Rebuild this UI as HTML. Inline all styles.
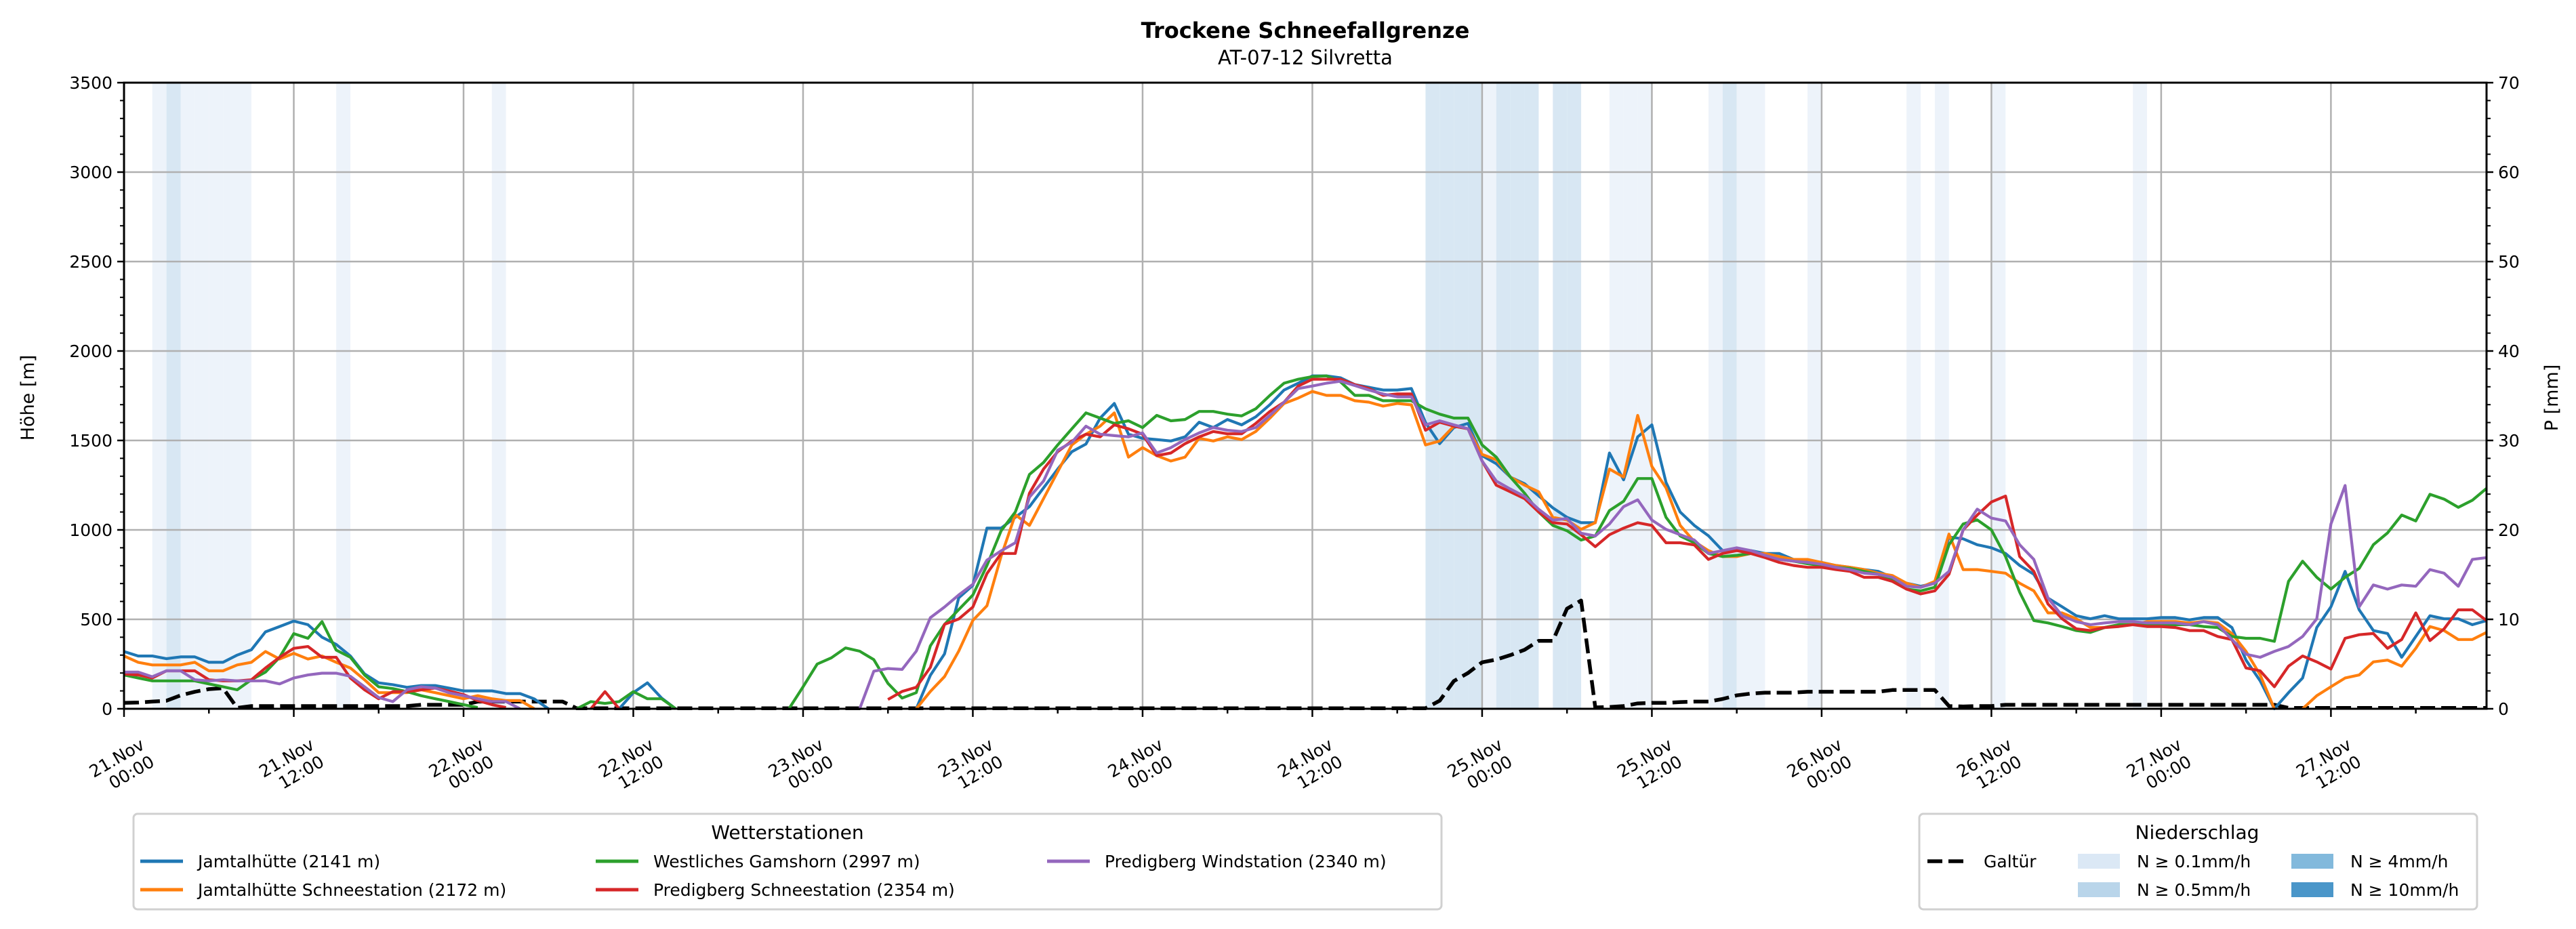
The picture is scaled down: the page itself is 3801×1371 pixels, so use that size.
<!DOCTYPE html>
<html><head><meta charset="utf-8">
<style>
html,body{margin:0;padding:0;background:#fff;}
svg{display:block;font-family:"DejaVu Sans","Liberation Sans",sans-serif;}
</style></head>
<body>
<svg id="chart" width="3801" height="1371" viewBox="0 0 3801 1371" xmlns="http://www.w3.org/2000/svg">
<rect width="3801" height="1371" fill="#fff"/>
<text x="1926" y="56" text-anchor="middle" font-size="32" font-weight="bold">Trockene Schneefallgrenze</text>
<text x="1926" y="95" text-anchor="middle" font-size="29">AT-07-12 Silvretta</text>
<g id="bands"></g>
<g id="grid"></g>
<g id="series"></g>
<g id="axes"></g>
<text transform="translate(50,587) rotate(-90)" text-anchor="middle" font-size="27">Höhe [m]</text>
<text transform="translate(3774,587) rotate(-90)" text-anchor="middle" font-size="27">P [mm]</text>
<g id="legend1"></g>
<g id="legend2"></g>
</svg>
<script>
const hours=[];for(let i=0;i<=167;i++)hours.push(i);
const jamtal=[320,295,295,280,290,290,260,260,300,330,430,460,490,470,400,360,295,195,145,135,120,130,130,115,100,100,100,85,85,55,0,null,null,null,null,0,90,145,60,0,null,null,null,null,null,null,null,null,null,null,null,null,null,null,null,null,
0,187,307,620,690,1010,1010,1070,1130,1235,1340,1437,1480,1625,1707,1535,1512,1505,1497,1520,1602,1572,1617,1587,1632,1700,1782,1820,1861,1861,1850,1812,1797,1782,1782,1790,1600,1482,1572,1595,1415,1370,1295,1258,1190,1123,1070,1040,1040,1430,1280,1520,1587,1265,1100,1025,
967,884,884,884,868,868,835,825,818,801,791,778,768,735,702,685,702,960,950,917,900,868,801,752,619,570,520,503,520,503,503,503,510,510,497,510,510,454,272,156,0,90,172,454,570,768,553,437,421,288,404,520,503,503,470,493];
const jamtalSchnee=[295,260,245,245,245,260,212,212,245,260,320,278,310,278,295,260,228,162,90,90,90,106,90,73,56,73,56,46,46,0,null,null,null,null,null,null,null,null,null,null,null,null,null,null,null,null,null,null,null,null,null,null,null,null,null,null,
0,97,180,322,494,576,853,1085,1025,1175,1325,1475,1535,1580,1654,1407,1460,1415,1385,1407,1512,1497,1520,1505,1550,1625,1707,1737,1774,1752,1752,1722,1714,1692,1707,1699,1475,1497,1580,1565,1422,1392,1295,1250,1213,1070,1055,1003,1040,1340,1295,1640,1355,1235,1025,935,
884,851,851,868,868,851,835,835,818,801,791,778,758,745,702,679,712,977,778,778,768,758,702,659,536,536,503,454,454,470,470,487,487,487,480,487,480,421,321,189,0,null,0,73,123,172,189,262,272,238,338,460,437,387,387,427];
const gamshorn=[189,172,156,156,156,156,139,123,106,162,205,288,420,394,487,328,288,189,123,113,96,73,56,40,23,7,null,null,null,null,null,null,0,40,30,40,96,56,56,0,null,null,null,null,null,null,null,0,123,250,285,340,322,275,142,60,
90,352,472,554,636,801,995,1100,1310,1377,1475,1565,1654,1625,1595,1610,1572,1640,1610,1617,1662,1662,1647,1637,1677,1752,1820,1842,1857,1861,1827,1752,1752,1722,1722,1722,1677,1647,1625,1625,1475,1407,1295,1205,1100,1025,995,943,966,1108,1160,1287,1287,1070,966,928,
868,851,858,868,851,835,825,811,801,791,785,768,752,725,669,659,679,917,1033,1056,1000,851,652,493,480,460,437,427,454,470,470,470,470,470,470,460,454,404,394,394,377,712,825,735,669,735,785,917,983,1083,1050,1199,1172,1126,1166,1232];
const predigSchnee=[195,189,172,212,212,212,162,156,156,162,228,288,338,348,288,288,172,106,56,96,96,106,116,99,79,46,23,7,null,null,null,null,null,0,96,0,null,null,null,null,null,null,null,null,null,null,null,null,null,null,null,null,null,null,52,97,
120,232,472,502,569,756,868,868,1205,1340,1437,1497,1535,1520,1587,1565,1535,1415,1430,1482,1520,1550,1537,1537,1595,1662,1714,1804,1842,1842,1842,1812,1790,1752,1760,1760,1557,1602,1580,1565,1385,1250,1213,1175,1100,1040,1033,973,906,973,1010,1040,1025,928,928,916,
835,868,884,868,845,818,801,791,791,778,768,735,735,712,669,642,659,752,1000,1083,1156,1189,851,768,586,503,447,437,454,460,470,460,460,454,437,437,404,387,228,212,123,238,295,262,222,394,414,421,338,387,536,381,447,553,553,493];
const predigWind=[205,205,179,212,212,162,156,162,156,156,156,139,172,189,199,199,182,123,63,40,106,123,116,89,73,56,40,40,0,null,null,null,null,null,null,null,null,null,null,null,null,null,null,null,null,null,null,null,null,null,null,null,0,210,225,220,
322,509,569,636,696,831,883,928,1183,1273,1445,1490,1580,1535,1527,1520,1542,1430,1460,1505,1542,1572,1557,1550,1572,1640,1714,1790,1804,1820,1831,1807,1782,1760,1744,1744,1587,1610,1587,1565,1385,1273,1228,1187,1115,1055,1063,981,966,1033,1130,1168,1055,1003,973,943,
868,884,900,884,858,835,825,818,808,791,778,758,752,735,685,679,702,768,1000,1116,1066,1050,917,835,619,520,487,470,480,487,487,480,480,480,470,487,470,387,305,288,321,348,404,503,1033,1248,570,692,669,692,685,778,758,685,835,845];
const galtur=[0.66,0.7,0.8,0.9,1.5,1.9,2.2,2.3,0.1,0.3,0.3,0.3,0.3,0.3,0.3,0.3,0.3,0.3,0.3,0.3,0.3,0.45,0.45,0.45,0.45,0.8,0.8,0.8,0.8,0.8,0.8,0.8,
0.05,0.05,0.05,0.05,0.05,0.05,0.05,0.05,0.05,0.05,0.05,0.05,0.05,0.05,0.05,0.05,0.05,0.05,0.05,0.05,0.05,0.05,0.05,0.05,0.05,0.05,0.05,0.05,0.05,0.05,0.05,0.05,0.05,0.05,0.05,0.05,0.05,0.05,0.05,0.05,0.05,0.05,0.05,0.05,0.05,0.05,0.05,0.05,0.05,0.05,0.05,0.05,0.05,0.05,0.05,0.05,0.05,0.05,0.05,0.05,0.05,
0.9,3.1,4.0,5.2,5.5,6.0,6.6,7.6,7.6,11.2,12.1,0.15,0.2,0.3,0.6,0.66,0.66,0.75,0.8,
0.8,1.1,1.5,1.7,1.8,1.8,1.8,1.9,1.9,1.9,1.9,1.9,1.9,2.1,2.1,2.1,2.1,
0.3,0.26,0.3,0.3,
0.45,0.45,0.45,0.45,0.45,0.45,0.45,0.45,0.45,0.45,0.45,0.45,0.45,0.45,0.45,0.45,0.45,0.45,0.45,0.45,
0.1,0.1,0.1,0.1,0.1,0.1,0.1,0.1,0.1,0.1,0.1,0.1,0.1,0.1,0.1];
const precipHours=[2,3,4,5,6,7,8,15,26,92,93,94,95,96,97,98,99,101,102,105,106,107,112,113,114,115,119,126,128,132,142];
const precipLevel=[1,2,1,1,1,1,1,1,1,2,2,2,2,1,2,2,2,2,2,1,1,1,1,2,1,1,1,1,1,1,1];
const yTicks=[0,500,1000,1500,2000,2500,3000,3500];
const y2Ticks=[0,10,20,30,40,50,60,70];
const xTickHours=[0,12,24,36,48,60,72,84,96,108,120,132,144,156];
const xTickDays=["21.Nov","21.Nov","22.Nov","22.Nov","23.Nov","23.Nov","24.Nov","24.Nov","25.Nov","25.Nov","26.Nov","26.Nov","27.Nov","27.Nov"];
const xTickTimes=["00:00","12:00","00:00","12:00","00:00","12:00","00:00","12:00","00:00","12:00","00:00","12:00","00:00","12:00"];

const L=183,R=3669,T=122,B=1046,HMAX=167,YMAX=3500,PMAX=70;
const X=h=>L+(R-L)*h/HMAX;
const Y=v=>B-(B-T)*v/YMAX;
const Y2=v=>B-(B-T)*v/PMAX;
const NS='http://www.w3.org/2000/svg';
function mk(tag,attrs,parent){const e=document.createElementNS(NS,tag);for(const k in attrs)e.setAttribute(k,attrs[k]);parent.appendChild(e);return e;}

const bandsG=document.getElementById('bands');
const bandColors=['#ffffff','#edf3fa','#d8e7f3','#9cc6e2','#5a9fcf'];
precipHours.forEach((h,i)=>{
  const r=mk('rect',{x:X(h),y:T,width:X(h+1)-X(h),height:B-T,fill:bandColors[precipLevel[i]]},bandsG);
  
  
});

const gridG=document.getElementById('grid');
yTicks.forEach(v=>{if(v>0&&v<YMAX){const l=mk('line',{x1:L,x2:R,y1:Y(v),y2:Y(v),stroke:'#b0b0b0','stroke-width':2.5},gridG);}});
xTickHours.forEach(h=>{if(h>0){const l=mk('line',{x1:X(h),x2:X(h),y1:T,y2:B,stroke:'#b0b0b0','stroke-width':2.5},gridG);}});

const seriesG=document.getElementById('series');
function drawLine(arr,color,name,scale,extra){
  let d='',pen=false;
  arr.forEach((v,i)=>{if(v===null||v===undefined){pen=false;return;}d+=(pen?'L':'M')+X(hours[i]).toFixed(1)+','+scale(v).toFixed(1);pen=true;});
  const p=mk('path',Object.assign({d:d,fill:'none',stroke:color,'stroke-width':4.2,'stroke-linejoin':'round'},extra||{}),seriesG);
  
  
}
drawLine(galtur,'#000','galtur-precip-line',Y2,{'stroke-width':5.5,'stroke-dasharray':'22,9'});
drawLine(jamtal,'#1f77b4','jamtalhuette-line',Y);
drawLine(jamtalSchnee,'#ff7f0e','jamtalhuette-schneestation-line',Y);
drawLine(gamshorn,'#2ca02c','westliches-gamshorn-line',Y);
drawLine(predigSchnee,'#d62728','predigberg-schneestation-line',Y);
drawLine(predigWind,'#9467bd','predigberg-windstation-line',Y);

const axG=document.getElementById('axes');
const frame=mk('rect',{x:L,y:T,width:R-L,height:B-T,fill:'none',stroke:'#000','stroke-width':3},axG);


for(let v=0;v<=YMAX;v+=100){
  const major=v%500===0;const len=major?10:6;
  mk('line',{x1:L-len,x2:L,y1:Y(v),y2:Y(v),stroke:'#000','stroke-width':major?2.5:2},axG);
  mk('line',{x1:R,x2:R+len,y1:Y(v),y2:Y(v),stroke:'#000','stroke-width':major?2.5:2},axG);
}
yTicks.forEach(v=>{const t=mk('text',{x:L-17,y:Y(v)+9,'text-anchor':'end','font-size':25},axG);t.textContent=v;});
y2Ticks.forEach(v=>{const t=mk('text',{x:R+17,y:Y2(v)+9,'text-anchor':'start','font-size':25},axG);t.textContent=v;});
for(let h=0;h<=HMAX;h+=6){const major=h%12===0;mk('line',{x1:X(h),x2:X(h),y1:B,y2:B+(major?12:7),stroke:'#000','stroke-width':2.5},axG);}
xTickHours.forEach((h,i)=>{
  const g=mk('g',{transform:'translate('+(X(h)+32)+','+(B+58)+') rotate(-30)'},axG);
  
  
  const t1=mk('text',{x:0,y:0,'text-anchor':'end','font-size':25},g);t1.textContent=xTickDays[i];
  const t2=mk('text',{x:0,y:29,'text-anchor':'end','font-size':25},g);t2.textContent=xTickTimes[i];
});

// legend 1
const lg1=document.getElementById('legend1');
mk('rect',{x:197,y:1201,width:1930,height:141,rx:6,fill:'#fff',stroke:'#d0d0d0','stroke-width':3},lg1);
const lt1=mk('text',{x:1162,y:1238,'text-anchor':'middle','font-size':28},lg1);lt1.textContent='Wetterstationen';
const names=['Jamtalhütte (2141 m)','Jamtalhütte Schneestation (2172 m)','Westliches Gamshorn (2997 m)','Predigberg Schneestation (2354 m)','Predigberg Windstation (2340 m)'];
const cols=['#1f77b4','#ff7f0e','#2ca02c','#d62728','#9467bd'];
const lx=[207,207,879,879,1545],ly=[1271,1313,1271,1313,1271];
names.forEach((n,i)=>{
  const g=mk('g',{},lg1);
  
  
  mk('line',{x1:lx[i],x2:lx[i]+63,y1:ly[i],y2:ly[i],stroke:cols[i],'stroke-width':5},g);
  const t=mk('text',{x:lx[i]+85,y:ly[i]+9,'font-size':25},g);t.textContent=n;
});
// legend 2
const lg2=document.getElementById('legend2');
mk('rect',{x:2832,y:1201,width:823,height:141,rx:6,fill:'#fff',stroke:'#d0d0d0','stroke-width':3},lg2);
const lt2=mk('text',{x:3242,y:1238,'text-anchor':'middle','font-size':28},lg2);lt2.textContent='Niederschlag';
const g0=mk('g',{},lg2);


mk('line',{x1:2844,x2:2902,y1:1271,y2:1271,stroke:'#000','stroke-width':5.5,'stroke-dasharray':'22,9'},g0);
const tg=mk('text',{x:2927,y:1280,'font-size':25},g0);tg.textContent='Galtür';
const pl=['N ≥ 0.1mm/h','N ≥ 0.5mm/h','N ≥ 4mm/h','N ≥ 10mm/h'];
const pc=['#dbe8f5','#b9d5ea','#82b9dc','#4a96c9'];
const px=[3066,3066,3381,3381],py=[1271,1313,1271,1313];
pl.forEach((n,i)=>{
  const g=mk('g',{},lg2);
  
  
  mk('rect',{x:px[i],y:py[i]-11,width:62,height:22,fill:pc[i]},g);
  const t=mk('text',{x:px[i]+87,y:py[i]+9,'font-size':25},g);t.textContent=n;
});
</script>
</body></html>
